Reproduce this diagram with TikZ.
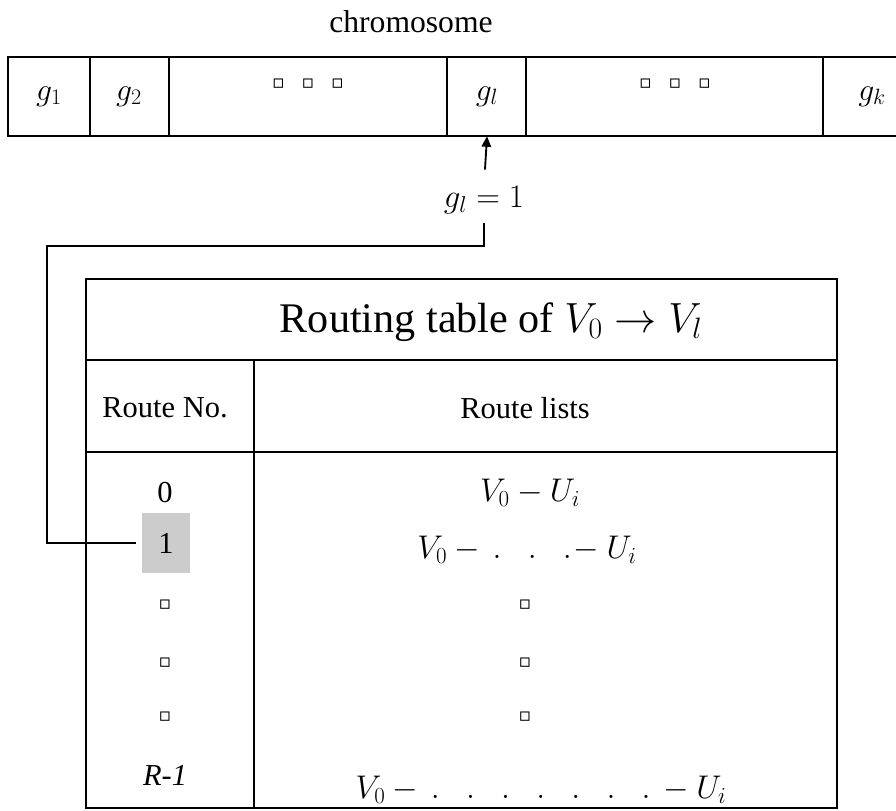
\documentclass[tikz,border=0pt]{standalone}
\usepackage{fix-cm}
\usepackage{fontspec}
\setmainfont{Liberation Serif}
\newfontfamily\symfont{DejaVu Sans}
\usetikzlibrary{arrows.meta,positioning}

\begin{document}
\begin{tikzpicture}[
  x=0.03cm, y=-0.03cm,
  rule/.style={line width=1.6pt},
  boldrule/.style={line width=2.4pt},
  lab/.style={font=\fontsize{26}{30}\selectfont, inner sep=0pt},
  mlab/.style={font=\fontsize{28}{32}\selectfont, inner sep=0pt},
  titlelab/.style={font=\fontsize{36}{40}\selectfont, inner sep=0pt},
  genebox/.style={font=\fontsize{27}{30}\selectfont, inner sep=0pt, minimum height=2.37cm},
  sq/.style={font=\symfont\fontsize{16}{18}\selectfont, inner sep=0pt},
  hilite/.style={fill=gray!40, minimum width=1.44cm, minimum height=1.8cm},
  dep/.style={-{Triangle[length=9pt, width=8pt]}, line width=1.6pt},
  link/.style={line width=1.6pt}
]
\useasboundingbox (0,0) rectangle (896,810);

% ---------- chromosome strip ----------
\node[lab, font=\fontsize{27}{30}\selectfont] (chrom) at (411,22) {chromosome};
\draw[rule] (910,57) -- (8,57) -- (8,136) -- (910,136);
\foreach \x in {90,169,447,526,823}
  \draw[rule] (\x,57) -- (\x,136);
\node[genebox] (g1) at (49,96.5) {$g_1$};
\node[genebox] (g2) at (129,96.5) {$g_2$};
\node[sq] (gdots1) at (308,84) {▫\hspace{0.9em}▫\hspace{0.9em}▫};
\node[genebox] (gl) at (487,96.5) {$g_l$};
\node[sq] (gdots2) at (675,84) {▫\hspace{0.9em}▫\hspace{0.9em}▫};
\node[genebox] (gk) at (872,96.5) {$g_k$};

% ---------- routing table ----------
\draw[rule] (86,279) rectangle (837,808);
\draw[rule] (86,360) -- (837,360);
\draw[boldrule] (86,452) -- (837,452);
\draw[rule] (254,360) -- (254,808);

\node[titlelab] (title) at (491,322) {Routing table of $V_0 \rightarrow V_l$};
\node[lab] (hno) at (165,408) {Route No.};
\node[lab] (hlist) at (525,408) {Route lists};

% route numbers
\node[lab] (r0) at (165,493) {0};
\node[lab, hilite] (one) at (166,543) {1};
\foreach \y [count=\i] in {605,663,717}
  \node[sq] (nd\i) at (165,\y) {▫};
\node[lab] (rlast) at (165,775) {\textit{R-1}};

% route lists
\node[mlab] (l0) at (530,493) {$V_0 - U_i$};
\node[mlab] (l1) at (527,550) {$V_0 -\,.\hspace{0.8em}.\hspace{0.8em}.\!- U_i$};
\foreach \y [count=\i] in {605,663,717}
  \node[sq] (ld\i) at (525,\y) {▫};
\node[mlab] (llast) at (541,790)
  {$V_0 -\,.\hspace{0.8em}.\hspace{0.8em}.\hspace{0.8em}.\hspace{0.8em}.\hspace{0.8em}.\hspace{0.8em}.\,- U_i$};

% ---------- selected gene value ----------
\node[mlab] (gval) at (484,200) {$g_l = 1$};
\draw[dep, shorten <=14pt] (gval.north) -- (gl.south);
\coordinate (bend) at (47,246);
\draw[link, shorten <=8pt, shorten >=5pt] (gval.south) |- (bend) |- (one.west);

\end{tikzpicture}
\end{document}
